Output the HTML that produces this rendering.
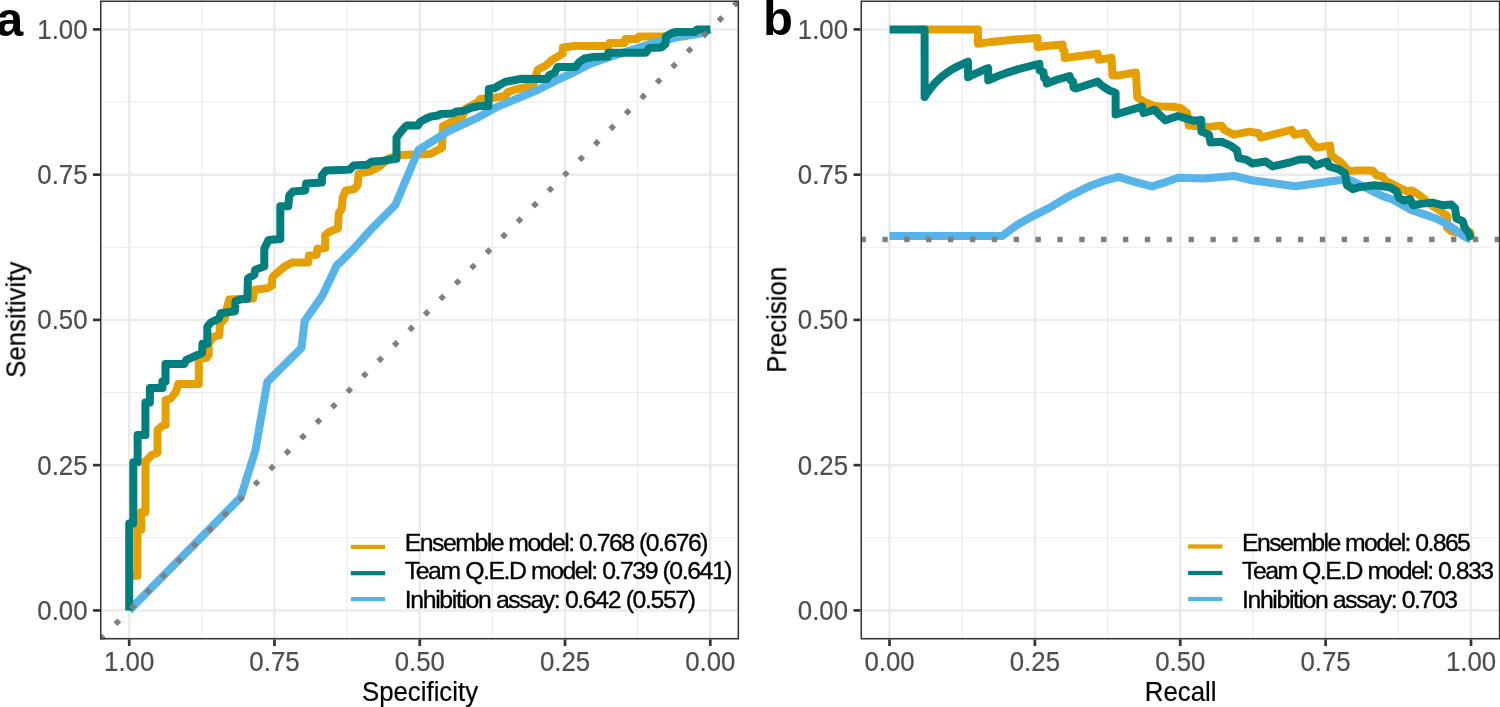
<!DOCTYPE html><html><head><meta charset="utf-8"><style>html,body{margin:0;padding:0;background:#fff;width:1500px;height:707px;overflow:hidden}svg{display:block}text{font-family:"Liberation Sans", sans-serif}.t{opacity:0.999}</style></head><body>
<svg width="1500" height="707" viewBox="0 0 1500 707">
<rect width="1500" height="707" fill="#fff"/><g opacity="0.999">
<defs><clipPath id="ca"><rect x="100.00" y="0.50" width="639.10" height="638.95"/></clipPath>
<clipPath id="cb"><rect x="860.50" y="0.50" width="639.80" height="638.95"/></clipPath></defs>
<g clip-path="url(#ca)">
<line x1="201.84" y1="0.50" x2="201.84" y2="639.45" stroke="#EBEBEB" stroke-width="1.1"/>
<line x1="100.00" y1="537.77" x2="739.10" y2="537.77" stroke="#EBEBEB" stroke-width="1.1"/>
<line x1="347.11" y1="0.50" x2="347.11" y2="639.45" stroke="#EBEBEB" stroke-width="1.1"/>
<line x1="100.00" y1="392.52" x2="739.10" y2="392.52" stroke="#EBEBEB" stroke-width="1.1"/>
<line x1="492.39" y1="0.50" x2="492.39" y2="639.45" stroke="#EBEBEB" stroke-width="1.1"/>
<line x1="100.00" y1="247.27" x2="739.10" y2="247.27" stroke="#EBEBEB" stroke-width="1.1"/>
<line x1="637.66" y1="0.50" x2="637.66" y2="639.45" stroke="#EBEBEB" stroke-width="1.1"/>
<line x1="100.00" y1="102.02" x2="739.10" y2="102.02" stroke="#EBEBEB" stroke-width="1.1"/>
<line x1="129.20" y1="0.50" x2="129.20" y2="639.45" stroke="#EBEBEB" stroke-width="2.5"/>
<line x1="100.00" y1="610.40" x2="739.10" y2="610.40" stroke="#EBEBEB" stroke-width="2.5"/>
<line x1="274.47" y1="0.50" x2="274.47" y2="639.45" stroke="#EBEBEB" stroke-width="2.5"/>
<line x1="100.00" y1="465.15" x2="739.10" y2="465.15" stroke="#EBEBEB" stroke-width="2.5"/>
<line x1="419.75" y1="0.50" x2="419.75" y2="639.45" stroke="#EBEBEB" stroke-width="2.5"/>
<line x1="100.00" y1="319.90" x2="739.10" y2="319.90" stroke="#EBEBEB" stroke-width="2.5"/>
<line x1="565.02" y1="0.50" x2="565.02" y2="639.45" stroke="#EBEBEB" stroke-width="2.5"/>
<line x1="100.00" y1="174.65" x2="739.10" y2="174.65" stroke="#EBEBEB" stroke-width="2.5"/>
<line x1="710.30" y1="0.50" x2="710.30" y2="639.45" stroke="#EBEBEB" stroke-width="2.5"/>
<line x1="100.00" y1="29.40" x2="739.10" y2="29.40" stroke="#EBEBEB" stroke-width="2.5"/>
<polyline points="129.2,575.8 137.4,575.8 137.4,529.5 141.3,529.5 141.3,512.0 145.4,512.0 145.4,461.0 148.0,459.0 151.6,455.0 157.5,453.0 157.5,430.0 162.0,426.0 165.6,425.0 165.6,400.0 170.7,398.6 175.8,392.0 178.3,384.0 198.8,384.0 198.8,359.3 206.6,357.9 208.7,355.0 208.7,343.7 213.6,336.7 219.3,335.3 220.0,324.0 225.0,318.3 227.1,307.0 229.2,299.5 253.0,298.5 254.4,289.7 267.1,288.2 272.1,285.4 272.1,279.0 273.4,276.0 279.3,271.0 284.4,266.6 292.1,262.5 308.2,262.5 309.0,255.5 316.6,254.7 317.5,248.7 325.1,247.9 325.1,235.2 329.4,231.8 337.9,228.4 338.8,213.2 341.7,209.2 342.7,197.3 345.7,190.4 353.6,189.4 357.6,185.4 358.6,173.6 369.5,171.6 379.4,166.6 389.3,158.0 400.9,155.0 414.0,154.6 430.0,154.0 441.9,148.0 443.0,126.0 450.0,122.5 458.0,119.5 462.0,117.0 466.0,108.5 478.0,102.0 480.0,99.0 492.0,98.0 505.0,96.0 508.0,92.0 515.3,89.5 525.0,87.5 533.6,84.0 537.6,69.8 545.5,65.8 552.9,59.4 562.8,53.5 562.8,47.5 574.7,46.0 608.5,46.0 609.3,43.0 624.6,43.0 625.5,39.0 637.4,39.0 639.0,36.4 684.0,36.4 697.0,32.0 710.3,29.4" fill="none" stroke="#E69F00" stroke-width="8" stroke-linejoin="round" stroke-linecap="butt"/>
<polyline points="129.2,610.4 240.7,497.4 255.3,450.9 267.3,381.9 301.5,347.8 304.6,321.0 322.3,295.9 336.9,265.0 339.8,262.7 353.6,248.8 369.5,231.0 395.3,205.0 418.5,150.0 448.5,131.2 478.2,117.3 496.0,107.4 537.6,90.0 558.3,79.5 569.6,74.4 590.0,64.0 608.3,57.5 640.0,47.4 655.9,42.3 679.7,36.6 699.5,33.7 710.3,29.4" fill="none" stroke="#56B4E9" stroke-width="8" stroke-linejoin="round" stroke-linecap="butt"/>
<polyline points="129.2,610.4 129.2,523.4 133.3,523.4 133.3,462.3 137.6,462.3 137.6,435.0 145.4,435.0 145.4,402.4 149.9,402.4 149.9,388.0 162.4,388.0 162.4,381.5 165.5,381.5 165.5,364.0 184.3,364.0 186.3,360.0 195.2,356.0 202.1,353.0 202.5,343.7 207.3,343.7 207.3,326.8 210.8,322.5 215.1,320.4 219.0,318.5 220.7,313.3 234.9,311.2 235.6,301.3 240.5,299.2 247.3,298.8 248.0,278.3 254.4,274.8 255.1,269.9 264.3,266.3 264.3,248.8 268.5,239.9 280.3,238.9 280.3,206.2 288.3,206.2 289.3,195.3 293.2,191.4 305.1,190.4 306.1,183.5 321.9,182.5 321.9,175.5 325.9,170.6 349.7,169.6 353.6,165.6 367.5,164.7 371.4,161.7 383.3,160.7 389.3,159.7 396.5,158.7 396.5,137.7 401.0,131.7 405.0,127.0 407.0,125.5 418.0,125.5 420.0,122.0 426.3,118.5 431.1,116.5 438.3,115.5 440.7,114.0 452.7,113.5 456.3,111.5 462.3,111.0 467.2,109.5 472.0,107.5 479.2,106.0 488.5,106.0 488.8,89.0 494.8,88.0 499.6,85.0 503.2,83.0 505.9,81.7 521.7,78.7 546.7,79.0 549.7,75.0 554.7,72.7 557.6,67.0 575.4,67.0 579.4,62.0 584.4,58.5 593.3,57.0 607.6,56.6 608.3,52.8 645.8,52.8 649.2,48.0 661.1,47.5 665.5,44.0 666.0,36.5 672.0,33.0 676.0,32.0 695.0,32.0 697.0,29.4 710.3,29.4" fill="none" stroke="#007F7E" stroke-width="8" stroke-linejoin="round" stroke-linecap="butt"/>
<line x1="100.00" y1="639.60" x2="800.00" y2="-60.40" stroke="#7F7F7F" stroke-width="5.4" stroke-dasharray="5.4 16.47"/>
<rect x="350.8" y="544.80" width="34.3" height="4.2" fill="#E69F00"/>
<rect x="350.8" y="571.10" width="34.3" height="4.2" fill="#007F7E"/>
<rect x="350.8" y="597.00" width="34.3" height="4.2" fill="#56B4E9"/>
<text x="404.8" y="551.20" font-size="24.8" fill="#000" stroke="#000" stroke-width="0.35" textLength="303.7" lengthAdjust="spacing">Ensemble model: 0.768 (0.676)</text>
<text x="404.8" y="578.90" font-size="24.8" fill="#000" stroke="#000" stroke-width="0.35" textLength="327.7" lengthAdjust="spacing">Team Q.E.D model: 0.739 (0.641)</text>
<text x="404.8" y="607.70" font-size="24.8" fill="#000" stroke="#000" stroke-width="0.35" textLength="291.2" lengthAdjust="spacing">Inhibition assay: 0.642 (0.557)</text>
<rect x="100.00" y="0.50" width="639.10" height="638.95" fill="none" stroke="#333333" stroke-width="3.0"/>
</g>
<g clip-path="url(#cb)">
<line x1="962.19" y1="0.50" x2="962.19" y2="639.45" stroke="#EBEBEB" stroke-width="1.1"/>
<line x1="860.50" y1="537.77" x2="1500.30" y2="537.77" stroke="#EBEBEB" stroke-width="1.1"/>
<line x1="1107.56" y1="0.50" x2="1107.56" y2="639.45" stroke="#EBEBEB" stroke-width="1.1"/>
<line x1="860.50" y1="392.52" x2="1500.30" y2="392.52" stroke="#EBEBEB" stroke-width="1.1"/>
<line x1="1252.94" y1="0.50" x2="1252.94" y2="639.45" stroke="#EBEBEB" stroke-width="1.1"/>
<line x1="860.50" y1="247.27" x2="1500.30" y2="247.27" stroke="#EBEBEB" stroke-width="1.1"/>
<line x1="1398.31" y1="0.50" x2="1398.31" y2="639.45" stroke="#EBEBEB" stroke-width="1.1"/>
<line x1="860.50" y1="102.02" x2="1500.30" y2="102.02" stroke="#EBEBEB" stroke-width="1.1"/>
<line x1="889.50" y1="0.50" x2="889.50" y2="639.45" stroke="#EBEBEB" stroke-width="2.5"/>
<line x1="860.50" y1="610.40" x2="1500.30" y2="610.40" stroke="#EBEBEB" stroke-width="2.5"/>
<line x1="1034.88" y1="0.50" x2="1034.88" y2="639.45" stroke="#EBEBEB" stroke-width="2.5"/>
<line x1="860.50" y1="465.15" x2="1500.30" y2="465.15" stroke="#EBEBEB" stroke-width="2.5"/>
<line x1="1180.25" y1="0.50" x2="1180.25" y2="639.45" stroke="#EBEBEB" stroke-width="2.5"/>
<line x1="860.50" y1="319.90" x2="1500.30" y2="319.90" stroke="#EBEBEB" stroke-width="2.5"/>
<line x1="1325.62" y1="0.50" x2="1325.62" y2="639.45" stroke="#EBEBEB" stroke-width="2.5"/>
<line x1="860.50" y1="174.65" x2="1500.30" y2="174.65" stroke="#EBEBEB" stroke-width="2.5"/>
<line x1="1471.00" y1="0.50" x2="1471.00" y2="639.45" stroke="#EBEBEB" stroke-width="2.5"/>
<line x1="860.50" y1="29.40" x2="1500.30" y2="29.40" stroke="#EBEBEB" stroke-width="2.5"/>
<polyline points="918.0,29.4 978.0,29.4 978.0,43.7 985.5,42.6 992.9,41.7 1000.3,40.9 1007.8,40.2 1015.2,39.5 1022.7,39.0 1030.1,38.5 1037.6,38.0 1037.6,47.0 1045.9,46.1 1054.3,45.3 1062.6,44.5 1062.6,49.5 1064.6,51.0 1064.6,58.0 1097.6,53.8 1098.6,59.7 1111.5,57.7 1112.5,75.5 1117.1,75.6 1135.8,72.5 1137.4,97.4 1144.4,102.0 1154.5,105.9 1161.0,106.5 1173.2,106.7 1180.9,108.2 1187.2,112.9 1188.7,125.4 1209.0,126.9 1221.4,125.4 1224.5,130.0 1233.9,134.7 1249.4,131.6 1258.8,133.2 1260.8,137.7 1291.5,129.8 1294.5,134.8 1305.3,132.8 1309.3,139.7 1316.2,147.6 1330.1,145.6 1331.1,155.5 1337.0,159.5 1341.0,162.5 1348.9,171.4 1356.8,170.4 1372.7,170.4 1376.6,175.3 1382.5,176.5 1385.1,180.4 1390.5,183.3 1406.3,191.2 1411.8,190.5 1418.2,194.4 1423.3,198.2 1426.1,201.1 1441.1,211.5 1447.4,216.0 1446.8,227.4 1451.3,231.3 1456.4,232.5 1467.8,231.3 1470.4,232.5 1471.0,239.7" fill="none" stroke="#E69F00" stroke-width="8" stroke-linejoin="round" stroke-linecap="butt"/>
<polyline points="889.5,236.0 1002.1,236.0 1017.7,224.5 1031.6,216.7 1048.9,208.1 1066.3,197.7 1087.1,187.3 1102.7,181.2 1118.3,176.9 1135.6,182.1 1152.1,186.4 1163.3,182.9 1178.1,177.7 1203.2,178.6 1234.4,176.0 1251.9,180.3 1295.4,186.2 1339.0,180.3 1350.9,180.3 1366.7,188.2 1382.6,196.1 1392.7,199.5 1401.6,204.5 1411.8,210.3 1423.3,214.1 1436.0,218.5 1446.2,223.6 1456.4,230.6 1464.0,236.4 1471.0,239.7" fill="none" stroke="#56B4E9" stroke-width="8" stroke-linejoin="round" stroke-linecap="butt"/>
<polyline points="889.5,29.4 924.6,29.4 924.6,97.1 928.2,91.4 931.9,86.7 935.5,82.6 939.1,79.0 942.7,75.9 946.4,73.1 950.0,70.7 953.6,68.5 957.2,66.6 960.9,64.8 964.5,63.2 968.1,61.7 968.1,77.3 973.1,74.6 978.2,72.3 983.2,70.1 988.2,68.2 988.2,80.3 994.6,77.5 1001.0,74.9 1007.4,72.6 1013.8,70.6 1020.2,68.7 1026.6,67.0 1033.0,65.4 1039.4,63.9 1039.6,70.5 1043.5,72.0 1044.0,78.0 1046.5,79.5 1046.8,83.5 1058.2,79.3 1069.6,76.0 1070.5,80.0 1073.0,81.5 1073.5,87.5 1075.5,88.5 1080.0,87.2 1097.6,81.5 1100.0,84.0 1103.1,86.5 1109.3,90.4 1115.6,92.7 1115.6,114.5 1142.0,106.7 1143.6,112.9 1154.5,109.8 1159.1,114.5 1165.4,120.2 1177.8,116.0 1185.6,118.4 1193.4,120.7 1201.2,119.9 1201.4,131.6 1209.0,134.7 1210.5,142.5 1221.4,141.7 1230.7,145.6 1237.0,150.3 1238.5,158.1 1246.3,159.6 1252.5,163.5 1265.7,161.5 1272.7,166.4 1289.5,162.5 1299.4,159.5 1309.3,159.5 1315.2,165.4 1327.1,161.5 1329.1,166.4 1339.0,169.4 1345.0,173.4 1346.9,185.2 1352.9,189.2 1358.8,187.2 1374.7,185.2 1382.6,186.2 1390.2,187.4 1396.5,191.2 1399.1,198.2 1404.2,200.7 1409.9,198.8 1413.1,205.2 1420.7,203.9 1432.2,202.6 1442.4,205.2 1451.3,204.5 1455.1,208.4 1456.4,218.5 1462.7,221.1 1464.6,227.4 1469.1,233.8 1471.0,239.7" fill="none" stroke="#007F7E" stroke-width="8" stroke-linejoin="round" stroke-linecap="butt"/>
<line x1="860.50" y1="239.5" x2="1550.30" y2="239.5" stroke="#7F7F7F" stroke-width="5.4" stroke-dasharray="5.4 16.47"/>
<rect x="1188.1" y="544.40" width="34.3" height="4.2" fill="#E69F00"/>
<rect x="1188.1" y="570.90" width="34.3" height="4.2" fill="#007F7E"/>
<rect x="1188.1" y="596.90" width="34.3" height="4.2" fill="#56B4E9"/>
<text x="1242.1" y="551.20" font-size="24.8" fill="#000" stroke="#000" stroke-width="0.35" textLength="228.8" lengthAdjust="spacing">Ensemble model: 0.865</text>
<text x="1242.1" y="578.90" font-size="24.8" fill="#000" stroke="#000" stroke-width="0.35" textLength="252.0" lengthAdjust="spacing">Team Q.E.D model: 0.833</text>
<text x="1242.1" y="607.70" font-size="24.8" fill="#000" stroke="#000" stroke-width="0.35" textLength="216.0" lengthAdjust="spacing">Inhibition assay: 0.703</text>
<rect x="860.50" y="0.50" width="639.80" height="638.95" fill="none" stroke="#333333" stroke-width="3.0"/>
</g>
<line x1="93.00" y1="610.40" x2="100.00" y2="610.40" stroke="#333333" stroke-width="2.7"/>
<text transform="translate(87.50,619.80) scale(1,1.040)" font-size="25.8" fill="#4D4D4D" stroke="#4D4D4D" stroke-width="0.20" text-anchor="end">0.00</text>
<line x1="853.50" y1="610.40" x2="860.50" y2="610.40" stroke="#333333" stroke-width="2.7"/>
<text transform="translate(848.00,619.80) scale(1,1.040)" font-size="25.8" fill="#4D4D4D" stroke="#4D4D4D" stroke-width="0.20" text-anchor="end">0.00</text>
<line x1="129.20" y1="639.45" x2="129.20" y2="646.05" stroke="#333333" stroke-width="2.7"/>
<text transform="translate(129.20,670.70) scale(1,1.040)" font-size="25.8" fill="#4D4D4D" stroke="#4D4D4D" stroke-width="0.20" text-anchor="middle">1.00</text>
<line x1="889.50" y1="639.45" x2="889.50" y2="646.05" stroke="#333333" stroke-width="2.7"/>
<text transform="translate(889.50,670.70) scale(1,1.040)" font-size="25.8" fill="#4D4D4D" stroke="#4D4D4D" stroke-width="0.20" text-anchor="middle">0.00</text>
<line x1="93.00" y1="465.15" x2="100.00" y2="465.15" stroke="#333333" stroke-width="2.7"/>
<text transform="translate(87.50,474.55) scale(1,1.040)" font-size="25.8" fill="#4D4D4D" stroke="#4D4D4D" stroke-width="0.20" text-anchor="end">0.25</text>
<line x1="853.50" y1="465.15" x2="860.50" y2="465.15" stroke="#333333" stroke-width="2.7"/>
<text transform="translate(848.00,474.55) scale(1,1.040)" font-size="25.8" fill="#4D4D4D" stroke="#4D4D4D" stroke-width="0.20" text-anchor="end">0.25</text>
<line x1="274.47" y1="639.45" x2="274.47" y2="646.05" stroke="#333333" stroke-width="2.7"/>
<text transform="translate(274.47,670.70) scale(1,1.040)" font-size="25.8" fill="#4D4D4D" stroke="#4D4D4D" stroke-width="0.20" text-anchor="middle">0.75</text>
<line x1="1034.88" y1="639.45" x2="1034.88" y2="646.05" stroke="#333333" stroke-width="2.7"/>
<text transform="translate(1034.88,670.70) scale(1,1.040)" font-size="25.8" fill="#4D4D4D" stroke="#4D4D4D" stroke-width="0.20" text-anchor="middle">0.25</text>
<line x1="93.00" y1="319.90" x2="100.00" y2="319.90" stroke="#333333" stroke-width="2.7"/>
<text transform="translate(87.50,329.30) scale(1,1.040)" font-size="25.8" fill="#4D4D4D" stroke="#4D4D4D" stroke-width="0.20" text-anchor="end">0.50</text>
<line x1="853.50" y1="319.90" x2="860.50" y2="319.90" stroke="#333333" stroke-width="2.7"/>
<text transform="translate(848.00,329.30) scale(1,1.040)" font-size="25.8" fill="#4D4D4D" stroke="#4D4D4D" stroke-width="0.20" text-anchor="end">0.50</text>
<line x1="419.75" y1="639.45" x2="419.75" y2="646.05" stroke="#333333" stroke-width="2.7"/>
<text transform="translate(419.75,670.70) scale(1,1.040)" font-size="25.8" fill="#4D4D4D" stroke="#4D4D4D" stroke-width="0.20" text-anchor="middle">0.50</text>
<line x1="1180.25" y1="639.45" x2="1180.25" y2="646.05" stroke="#333333" stroke-width="2.7"/>
<text transform="translate(1180.25,670.70) scale(1,1.040)" font-size="25.8" fill="#4D4D4D" stroke="#4D4D4D" stroke-width="0.20" text-anchor="middle">0.50</text>
<line x1="93.00" y1="174.65" x2="100.00" y2="174.65" stroke="#333333" stroke-width="2.7"/>
<text transform="translate(87.50,184.05) scale(1,1.040)" font-size="25.8" fill="#4D4D4D" stroke="#4D4D4D" stroke-width="0.20" text-anchor="end">0.75</text>
<line x1="853.50" y1="174.65" x2="860.50" y2="174.65" stroke="#333333" stroke-width="2.7"/>
<text transform="translate(848.00,184.05) scale(1,1.040)" font-size="25.8" fill="#4D4D4D" stroke="#4D4D4D" stroke-width="0.20" text-anchor="end">0.75</text>
<line x1="565.02" y1="639.45" x2="565.02" y2="646.05" stroke="#333333" stroke-width="2.7"/>
<text transform="translate(565.02,670.70) scale(1,1.040)" font-size="25.8" fill="#4D4D4D" stroke="#4D4D4D" stroke-width="0.20" text-anchor="middle">0.25</text>
<line x1="1325.62" y1="639.45" x2="1325.62" y2="646.05" stroke="#333333" stroke-width="2.7"/>
<text transform="translate(1325.62,670.70) scale(1,1.040)" font-size="25.8" fill="#4D4D4D" stroke="#4D4D4D" stroke-width="0.20" text-anchor="middle">0.75</text>
<line x1="93.00" y1="29.40" x2="100.00" y2="29.40" stroke="#333333" stroke-width="2.7"/>
<text transform="translate(87.50,38.80) scale(1,1.040)" font-size="25.8" fill="#4D4D4D" stroke="#4D4D4D" stroke-width="0.20" text-anchor="end">1.00</text>
<line x1="853.50" y1="29.40" x2="860.50" y2="29.40" stroke="#333333" stroke-width="2.7"/>
<text transform="translate(848.00,38.80) scale(1,1.040)" font-size="25.8" fill="#4D4D4D" stroke="#4D4D4D" stroke-width="0.20" text-anchor="end">1.00</text>
<line x1="710.30" y1="639.45" x2="710.30" y2="646.05" stroke="#333333" stroke-width="2.7"/>
<text transform="translate(710.30,670.70) scale(1,1.040)" font-size="25.8" fill="#4D4D4D" stroke="#4D4D4D" stroke-width="0.20" text-anchor="middle">0.00</text>
<line x1="1471.00" y1="639.45" x2="1471.00" y2="646.05" stroke="#333333" stroke-width="2.7"/>
<text transform="translate(1471.00,670.70) scale(1,1.040)" font-size="25.8" fill="#4D4D4D" stroke="#4D4D4D" stroke-width="0.20" text-anchor="middle">1.00</text>
<text transform="translate(420.00,701.50) scale(1,1.040)" font-size="25.8" fill="#000" stroke="#000" stroke-width="0.20" text-anchor="middle">Specificity</text>
<text transform="translate(1180.60,701.50) scale(1,1.040)" font-size="25.8" fill="#000" stroke="#000" stroke-width="0.20" text-anchor="middle">Recall</text>
<text transform="translate(25.30,319.80) rotate(-90) scale(1,1.040)" font-size="25.8" fill="#000" stroke="#000" stroke-width="0.20" text-anchor="middle">Sensitivity</text>
<text transform="translate(786.20,319.80) rotate(-90) scale(1,1.040)" font-size="25.8" fill="#000" stroke="#000" stroke-width="0.20" text-anchor="middle">Precision</text>
<text x="-4.1" y="36.4" font-size="49" font-weight="bold" fill="#000">a</text>
<text x="762.9" y="35.1" font-size="49" font-weight="bold" fill="#000">b</text>
</g></svg></body></html>
